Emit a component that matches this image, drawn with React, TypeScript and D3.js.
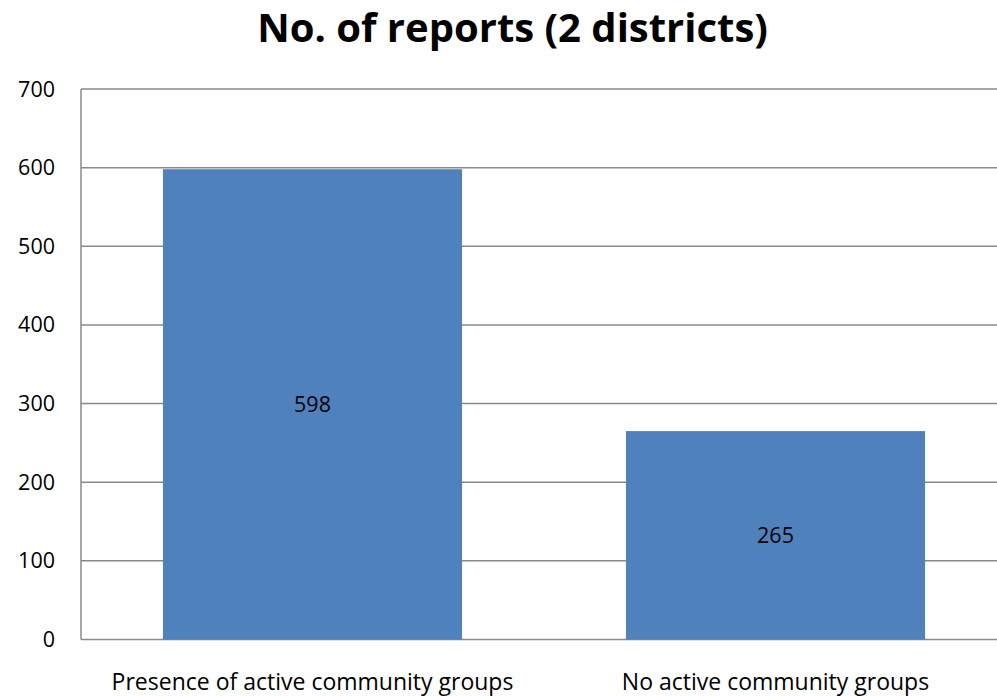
import React from "react";
import * as d3 from "d3";

const categories = ["Presence of active community groups", "No active community groups"];
const values = [598, 265];
const yTicks = [0, 100, 200, 300, 400, 500, 600, 700];
const title = "No. of reports (2 districts)";

export default function App() {
  const W = 997, H = 696;
  const left = 81, right = 1007, top = 89, bottom = 639.5;
  const x = d3.scaleBand<string>().domain(categories).range([left, right]).paddingInner(0.354).paddingOuter(0.177);
  const y = d3.scaleLinear().domain([0, 700]).range([bottom, top]);
  const font = "'Open Sans', sans-serif";
  return (
    <svg width={W} height={H} style={{ position: "absolute", left: 0, top: 0, background: "#fff" }}>
      <text x={512.5} y={42} textAnchor="middle" fontFamily={font} fontWeight="bold" fontSize={40} fill="#000">{title}</text>
      {yTicks.map(t => (
        <g key={t}>
          <line x1={left} x2={right} y1={y(t)} y2={y(t)} stroke="#8a8a8a" strokeWidth={1.5} />
          <text x={55} y={y(t)} dy="0.35em" textAnchor="end" fontFamily={font} fontSize={21.5} fill="#000">{t}</text>
        </g>
      ))}
      <line x1={left} x2={left} y1={top} y2={bottom} stroke="#8a8a8a" strokeWidth={1.5} />
      {categories.map((c, i) => (
        <g key={c}>
          <rect x={x(c)} y={y(values[i])} width={x.bandwidth()} height={bottom - y(values[i])} fill="#4f81bd" />
          <text x={x(c)! + x.bandwidth() / 2} y={(y(values[i]) + bottom) / 2} dy="0.35em" textAnchor="middle" fontFamily={font} fontSize={21.5} fill="#000">{values[i]}</text>
          <text x={x(c)! + x.bandwidth() / 2} y={690} textAnchor="middle" fontFamily={font} fontSize={23} fill="#000">{c}</text>
        </g>
      ))}
    </svg>
  );
}
